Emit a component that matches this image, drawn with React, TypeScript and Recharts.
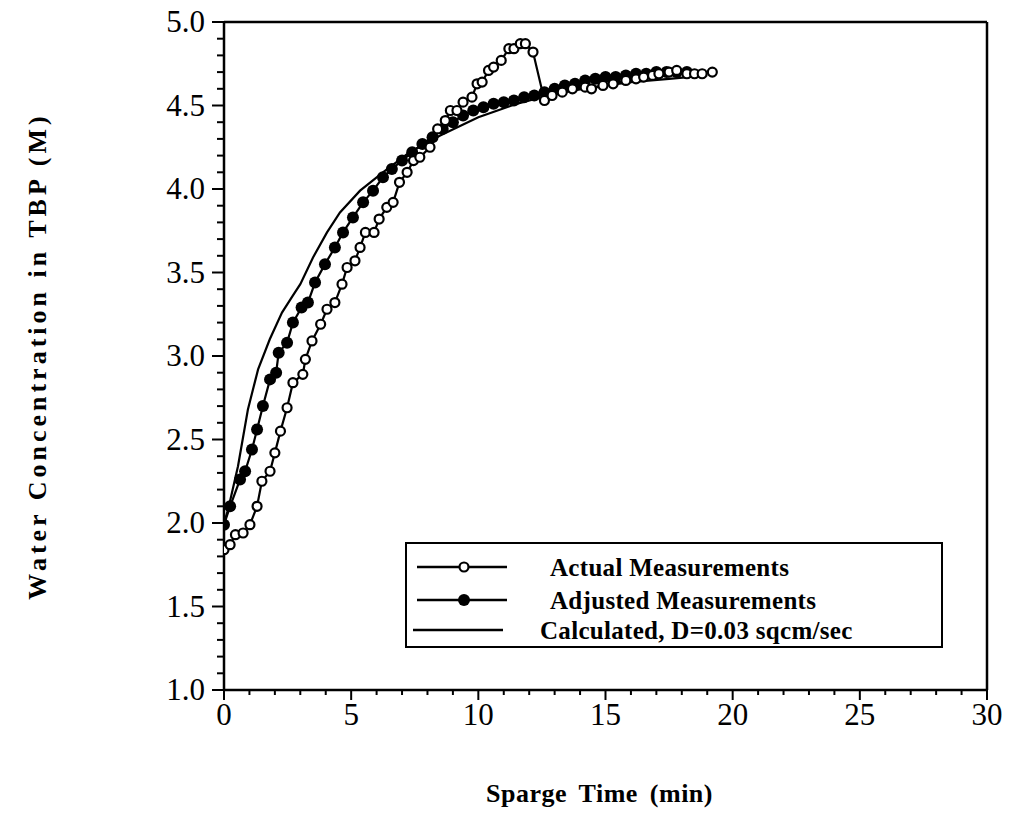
import React from 'react';
import { LineChart, Line, XAxis, YAxis, ReferenceLine } from 'recharts';

// values: time (min) and water concentration (M)
const actualTime = [
  0, 0.24, 0.45, 0.75, 1.02, 1.3, 1.49, 1.81, 2.0, 2.22, 2.48, 2.71, 3.1, 3.2, 3.46, 3.8, 4.05,
  4.36, 4.64, 4.84, 5.15, 5.35, 5.56, 5.9, 6.1, 6.4, 6.65, 6.9, 7.2, 7.45, 7.7, 8.1, 8.4, 8.7,
  8.9, 9.16, 9.4, 9.75, 9.95, 10.15, 10.4, 10.6, 10.9, 11.2, 11.4, 11.65, 11.85, 12.15, 12.6,
  12.9, 13.3, 13.7, 14.2, 14.45, 14.9, 15.3, 15.8, 16.2, 16.5, 16.85, 17.1, 17.5, 17.8, 18.2,
  18.5, 18.8, 19.2,
];
const actualConc = [
  1.84, 1.87, 1.93, 1.94, 1.99, 2.1, 2.25, 2.31, 2.42, 2.55, 2.69, 2.84, 2.89, 2.98, 3.09, 3.19,
  3.28, 3.32, 3.43, 3.53, 3.57, 3.65, 3.74, 3.74, 3.82, 3.89, 3.92, 4.04, 4.1, 4.17, 4.19, 4.25,
  4.36, 4.41, 4.47, 4.47, 4.52, 4.55, 4.63, 4.64, 4.71, 4.73, 4.77, 4.84, 4.84, 4.87, 4.87, 4.82,
  4.53, 4.56, 4.58, 4.6, 4.61, 4.6, 4.62, 4.63, 4.65, 4.66, 4.67, 4.68, 4.69, 4.7, 4.71, 4.69,
  4.69, 4.69, 4.7,
];

const adjustedTime = [
  0, 0.24, 0.63, 0.83, 1.1, 1.3, 1.53, 1.81, 2.05, 2.15, 2.48, 2.71, 3.05, 3.3, 3.58, 3.97, 4.36,
  4.68, 5.07, 5.47, 5.86, 6.25, 6.6, 7.0, 7.4, 7.8, 8.2, 8.6, 9.0, 9.4, 9.8, 10.2, 10.6, 11.0,
  11.4, 11.8, 12.2, 12.6, 13.0, 13.4, 13.8, 14.2, 14.6, 15.0, 15.4, 15.8, 16.2, 16.6, 17.0, 17.4,
  17.8, 18.2,
];
const adjustedConc = [
  1.99, 2.1, 2.26, 2.31, 2.44, 2.56, 2.7, 2.86, 2.9, 3.02, 3.08, 3.2, 3.29, 3.32, 3.44, 3.55, 3.65,
  3.74, 3.83, 3.92, 3.99, 4.07, 4.12, 4.17, 4.22, 4.27, 4.31, 4.36, 4.4, 4.44, 4.47, 4.49, 4.51,
  4.52, 4.53, 4.55, 4.56, 4.58, 4.6, 4.62, 4.63, 4.65, 4.66, 4.67, 4.67, 4.68, 4.69, 4.69, 4.7,
  4.7, 4.7, 4.7,
];

const calcTime = [
  0, 0.16, 0.55, 0.94, 1.34, 1.8, 2.28, 2.7, 3.0, 3.5, 4.05, 4.56, 5.35, 6.25, 7.3, 8.5, 10, 11.5,
  13, 14.5, 16, 17.5, 19,
];
const calcConc = [
  2.0, 2.08, 2.34, 2.68, 2.92, 3.1, 3.26, 3.36, 3.43, 3.59, 3.74, 3.86, 3.99, 4.1, 4.22, 4.32,
  4.43, 4.51, 4.57, 4.61, 4.64, 4.66, 4.68,
];

const xTicks = [
  0, 1, 2, 3, 4, 5, 6, 7, 8, 9, 10, 11, 12, 13, 14, 15, 16, 17, 18, 19, 20, 21, 22, 23, 24, 25, 26,
  27, 28, 29, 30,
];
const xLabels = [0, 5, 10, 15, 20, 25, 30];
const yTicks = [
  1.0, 1.1, 1.2, 1.3, 1.4, 1.5, 1.6, 1.7, 1.8, 1.9, 2.0, 2.1, 2.2, 2.3, 2.4, 2.5, 2.6, 2.7, 2.8,
  2.9, 3.0, 3.1, 3.2, 3.3, 3.4, 3.5, 3.6, 3.7, 3.8, 3.9, 4.0, 4.1, 4.2, 4.3, 4.4, 4.5, 4.6, 4.7,
  4.8, 4.9, 5.0,
];
const yLabels = ['1.0', '1.5', '2.0', '2.5', '3.0', '3.5', '4.0', '4.5', '5.0'];

const seriesNames = ['Actual Measurements', 'Adjusted Measurements', 'Calculated, D=0.03 sqcm/sec'];

const actualData = actualTime.map((t, i) => ({ t, c: actualConc[i] }));
const adjustedData = adjustedTime.map((t, i) => ({ t, c: adjustedConc[i] }));
const calcData = calcTime.map((t, i) => ({ t, c: calcConc[i] }));

const SERIF = '"Liberation Serif", "Times New Roman", serif';

function XTick(props: any) {
  const { x, y, payload } = props;
  const major = xLabels.includes(payload.value);
  return (
    <g>
      <line x1={x} y1={y} x2={x} y2={y + (major ? 10 : 5)} stroke="#000" strokeWidth={2} />
      {major && (
        <text x={x} y={y + 35} textAnchor="middle" fontFamily={SERIF} fontSize={31} fill="#000">
          {payload.value}
        </text>
      )}
    </g>
  );
}

function YTick(props: any) {
  const { x, y, payload } = props;
  const label = Number(payload.value).toFixed(1);
  const major = yLabels.includes(label);
  return (
    <g>
      <line x1={x} y1={y} x2={x - (major ? 12 : 7)} y2={y} stroke="#000" strokeWidth={2} />
      {major && (
        <text x={x - 19} y={y + 10} textAnchor="end" fontFamily={SERIF} fontSize={31} fill="#000">
          {label}
        </text>
      )}
    </g>
  );
}

function LegendBox() {
  const rows = [
    { y: 23, marker: 'open', textX: 143 },
    { y: 56, marker: 'filled', textX: 143 },
    { y: 86, marker: 'none', textX: 133 },
  ];
  return (
    <div
      style={{
        position: 'absolute',
        left: 405,
        top: 542,
        width: 538,
        height: 106,
        border: '2px solid #000',
        boxSizing: 'border-box',
        background: '#fff',
      }}
    >
      <svg width={534} height={102} style={{ position: 'absolute', left: 0, top: 0 }}>
        {rows.map((r, i) => (
          <g key={i}>
            <line x1={i === 2 ? 6 : 10} x2={i === 2 ? 96 : 100} y1={r.y} y2={r.y} stroke="#000" strokeWidth={2.5} />
            {r.marker === 'open' && <circle cx={57} cy={r.y} r={4.5} fill="#fff" stroke="#000" strokeWidth={2.2} />}
            {r.marker === 'filled' && <circle cx={57} cy={r.y} r={6} fill="#000" />}
            <text
              x={r.textX}
              y={r.y + 9}
              fontFamily={SERIF}
              fontWeight="bold"
              fontSize={25}
              letterSpacing={0.3}
              fill="#000"
            >
              {seriesNames[i]}
            </text>
          </g>
        ))}
      </svg>
    </div>
  );
}

export default function App() {
  return (
    <div style={{ position: 'absolute', left: 0, top: 0, width: 1015, height: 830, background: '#fff' }}>
      <LineChart width={1015} height={830} margin={{ top: 22, right: 28, bottom: 80, left: 114 }}>
        <XAxis
          dataKey="t"
          type="number"
          domain={[0, 30]}
          ticks={xTicks}
          interval={0}
          tickSize={0}
          tickMargin={0}
          tick={<XTick />}
          height={60}
          axisLine={{ stroke: '#000', strokeWidth: 2.5 }}
          tickLine={false}
          allowDataOverflow
          label={{
            content: (p: any) => {
              const vb = p.viewBox;
              return (
                <text
                  x={vb.x + vb.width / 2 - 6}
                  y={vb.y + 112}
                  textAnchor="middle"
                  fontFamily={SERIF}
                  fontWeight="bold"
                  fontSize={26}
                  letterSpacing={0.5}
                  wordSpacing={5}
                  fill="#000"
                >
                  Sparge Time (min)
                </text>
              );
            },
          }}
        />
        <YAxis
          dataKey="c"
          type="number"
          domain={[1, 5]}
          ticks={yTicks}
          interval={0}
          tickSize={0}
          tickMargin={0}
          tick={<YTick />}
          width={110}
          axisLine={{ stroke: '#000', strokeWidth: 2.5 }}
          tickLine={false}
          allowDataOverflow
          label={{
            content: (p: any) => {
              const vb = p.viewBox;
              const cx = vb.x - 74;
              const cy = vb.y + vb.height / 2;
              return (
                <text
                  x={cx}
                  y={cy}
                  transform={`rotate(-90 ${cx} ${cy})`}
                  textAnchor="middle"
                  dominantBaseline="middle"
                  fontFamily={SERIF}
                  fontWeight="bold"
                  fontSize={26}
                  letterSpacing={4}
                  fill="#000"
                >
                  Water Concentration in TBP (M)
                </text>
              );
            },
          }}
        />
        <ReferenceLine y={5} stroke="#000" strokeWidth={2.5} />
        <ReferenceLine x={30} stroke="#000" strokeWidth={2.5} />
        <Line
          data={calcData}
          dataKey="c"
          type="linear"
          stroke="#000"
          strokeWidth={2.2}
          dot={false}
          activeDot={false}
          isAnimationActive={false}
        />
        <Line
          data={adjustedData}
          dataKey="c"
          type="linear"
          stroke="#000"
          strokeWidth={2.2}
          dot={{ r: 6, fill: '#000', stroke: '#000', strokeWidth: 0 }}
          activeDot={false}
          isAnimationActive={false}
        />
        <Line
          data={actualData}
          dataKey="c"
          type="linear"
          stroke="#000"
          strokeWidth={2.2}
          dot={{ r: 4.5, fill: '#fff', stroke: '#000', strokeWidth: 2.2 }}
          activeDot={false}
          isAnimationActive={false}
        />
      </LineChart>
      <LegendBox />
    </div>
  );
}
